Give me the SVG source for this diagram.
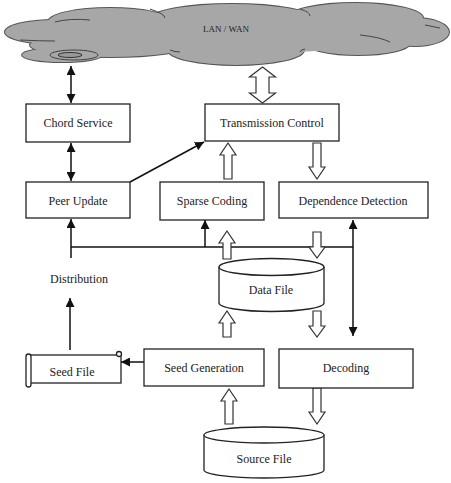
<svg xmlns="http://www.w3.org/2000/svg" width="451" height="483" viewBox="0 0 451 483">
<style>
.box{fill:#fff;stroke:#222;stroke-width:1.3}
.lbl{font-family:'Liberation Serif','DejaVu Serif',serif;font-size:12px;fill:#222;text-anchor:middle;dominant-baseline:central}
.ln{stroke:#111;stroke-width:1.5;fill:none}
.hol{fill:#fff;stroke:#333;stroke-width:1.2}
.cl{fill:#a7a7a7;stroke:#555;stroke-width:2}
.clf{fill:#a7a7a7}
</style>
<defs>
<marker id="ah" viewBox="0 0 10 10" refX="10" refY="5" markerWidth="9" markerHeight="9" markerUnits="userSpaceOnUse" orient="auto-start-reverse">
<path d="M0,0 L10,5 L0,10 z" fill="#111"/>
</marker>
</defs>
<rect width="451" height="483" fill="#fff"/>
<g id="cloud">
<g class="cl">
<ellipse cx="55" cy="32" rx="50" ry="12"/>
<ellipse cx="110" cy="22" rx="62" ry="14"/>
<ellipse cx="232" cy="19" rx="82" ry="15"/>
<ellipse cx="355" cy="18" rx="68" ry="15"/>
<ellipse cx="415" cy="32" rx="34" ry="14"/>
<ellipse cx="358" cy="43" rx="52" ry="12"/>
<ellipse cx="236" cy="50" rx="68" ry="15"/>
<ellipse cx="110" cy="45" rx="80" ry="12"/>
<ellipse cx="62" cy="55" rx="40" ry="7"/>
</g>
<g class="clf">
<ellipse cx="55" cy="32" rx="50" ry="12"/>
<ellipse cx="110" cy="22" rx="62" ry="14"/>
<ellipse cx="232" cy="19" rx="82" ry="15"/>
<ellipse cx="355" cy="18" rx="68" ry="15"/>
<ellipse cx="415" cy="32" rx="34" ry="14"/>
<ellipse cx="358" cy="43" rx="52" ry="12"/>
<ellipse cx="236" cy="50" rx="68" ry="15"/>
<ellipse cx="110" cy="45" rx="80" ry="12"/>
<ellipse cx="62" cy="55" rx="40" ry="7"/>
<ellipse cx="230" cy="35" rx="185" ry="18"/>
</g>
<g fill="none" stroke="#444" stroke-width="1">
<path d="M20,40 Q40,41 55,41"/>
<path d="M55,22 Q70,18 90,20"/>
<path d="M150,9 Q165,14 165,18"/>
<path d="M300,9 Q310,12 310,16"/>
<path d="M425,25 Q435,27 440,28"/>
<path d="M360,35 Q380,37 390,42"/>
<path d="M170,50 Q175,52 180,52"/>
<path d="M300,52 Q300,50 305,49"/>
</g>
<ellipse cx="74" cy="55" rx="24" ry="5" fill="#a7a7a7" stroke="#444" stroke-width="1"/>
<ellipse cx="70" cy="55" rx="12" ry="2.5" fill="#999" stroke="#333" stroke-width="1"/>
<text x="226" y="29" class="lbl" font-family="Liberation Serif, serif" style="font-size:9px">LAN / WAN</text>
</g>
<g id="connectors">
<line class="ln" x1="71" y1="66" x2="71" y2="103" marker-start="url(#ah)" marker-end="url(#ah)"/>
<line class="ln" x1="71" y1="143" x2="71" y2="181" marker-start="url(#ah)" marker-end="url(#ah)"/>
<line class="ln" x1="130" y1="182" x2="204" y2="142" marker-end="url(#ah)"/>
<line class="ln" x1="71" y1="247" x2="353" y2="247"/>
<line class="ln" x1="71" y1="258" x2="71" y2="219" marker-end="url(#ah)"/>
<line class="ln" x1="205" y1="247" x2="205" y2="220" marker-end="url(#ah)"/>
<line class="ln" x1="353" y1="220" x2="353" y2="336" marker-start="url(#ah)" marker-end="url(#ah)"/>
<line class="ln" x1="70" y1="350" x2="70" y2="298" marker-end="url(#ah)"/>
<line class="ln" x1="144" y1="362" x2="121" y2="362" marker-end="url(#ah)"/>
<polygon class="hol" points="262.5,67 275.5,77 269,77 269,93 275.5,93 262.5,103 249.5,93 256,93 256,77 249.5,77"/>
<polygon class="hol" points="224,179 224,155 220,155 228,143 236,155 232,155 232,179"/>
<polygon class="hol" points="313,143 313,167 309,167 317,179 325,167 321,167 321,143"/>
<polygon class="hol" points="223,259 223,243 219,243 227,231 235,243 231,243 231,259"/>
<polygon class="hol" points="313,232 313,247 309,247 317,258 325,247 321,247 321,232"/>
<polygon class="hol" points="223,337 223,323 219,323 227,311 235,323 231,323 231,337"/>
<polygon class="hol" points="313,311 313,326 309,326 317,337 325,326 321,326 321,311"/>
<polygon class="hol" points="225,424 225,401 221,401 229,389 237,401 233,401 233,424"/>
<polygon class="hol" points="313,388 313,412 309,412 317,424 325,412 321,412 321,388"/>
</g>
<g font-family="Liberation Serif, serif">
<g id="chord-service">
<rect class="box" x="26" y="104" width="104" height="38"/>
<text class="lbl" x="78" y="123">Chord Service</text>
</g>
<g id="transmission-control">
<rect class="box" x="205" y="104" width="134" height="37"/>
<text class="lbl" x="272" y="123">Transmission Control</text>
</g>
<g id="peer-update">
<rect class="box" x="26" y="182" width="104" height="36"/>
<text class="lbl" x="78" y="201">Peer Update</text>
</g>
<g id="sparse-coding">
<rect class="box" x="160" y="182" width="104" height="38"/>
<text class="lbl" x="212" y="201">Sparse Coding</text>
</g>
<g id="dependence-detection">
<rect class="box" x="279" y="182" width="149" height="36"/>
<text class="lbl" x="353" y="201">Dependence Detection</text>
</g>
<g id="distribution">
<text class="lbl" x="79" y="279">Distribution</text>
</g>
<g id="data-file">
<path class="box" d="M219,267 L219,303 A52.5,8.5 0 0 0 324,303 L324,267"/>
<ellipse class="box" cx="271.5" cy="267" rx="52.5" ry="8.5"/>
<text class="lbl" x="271" y="290">Data File</text>
</g>
<g id="seed-file">
<rect class="box" x="30" y="355" width="91" height="28"/>
<rect class="box" x="26" y="354" width="5" height="33" rx="2.5"/>
<circle class="box" cx="119" cy="354" r="2.5"/>
<text class="lbl" x="72" y="372">Seed File</text>
</g>
<g id="seed-generation">
<rect class="box" x="144" y="349" width="120" height="37"/>
<text class="lbl" x="204" y="368">Seed Generation</text>
</g>
<g id="decoding">
<rect class="box" x="279" y="349" width="134" height="39"/>
<text class="lbl" x="346" y="368">Decoding</text>
</g>
<g id="source-file">
<path class="box" d="M204,435 L204,470 A60,8 0 0 0 324,470 L324,435"/>
<ellipse class="box" cx="264" cy="435" rx="60" ry="8"/>
<text class="lbl" x="264" y="459">Source File</text>
</g>
</g>
</svg>
